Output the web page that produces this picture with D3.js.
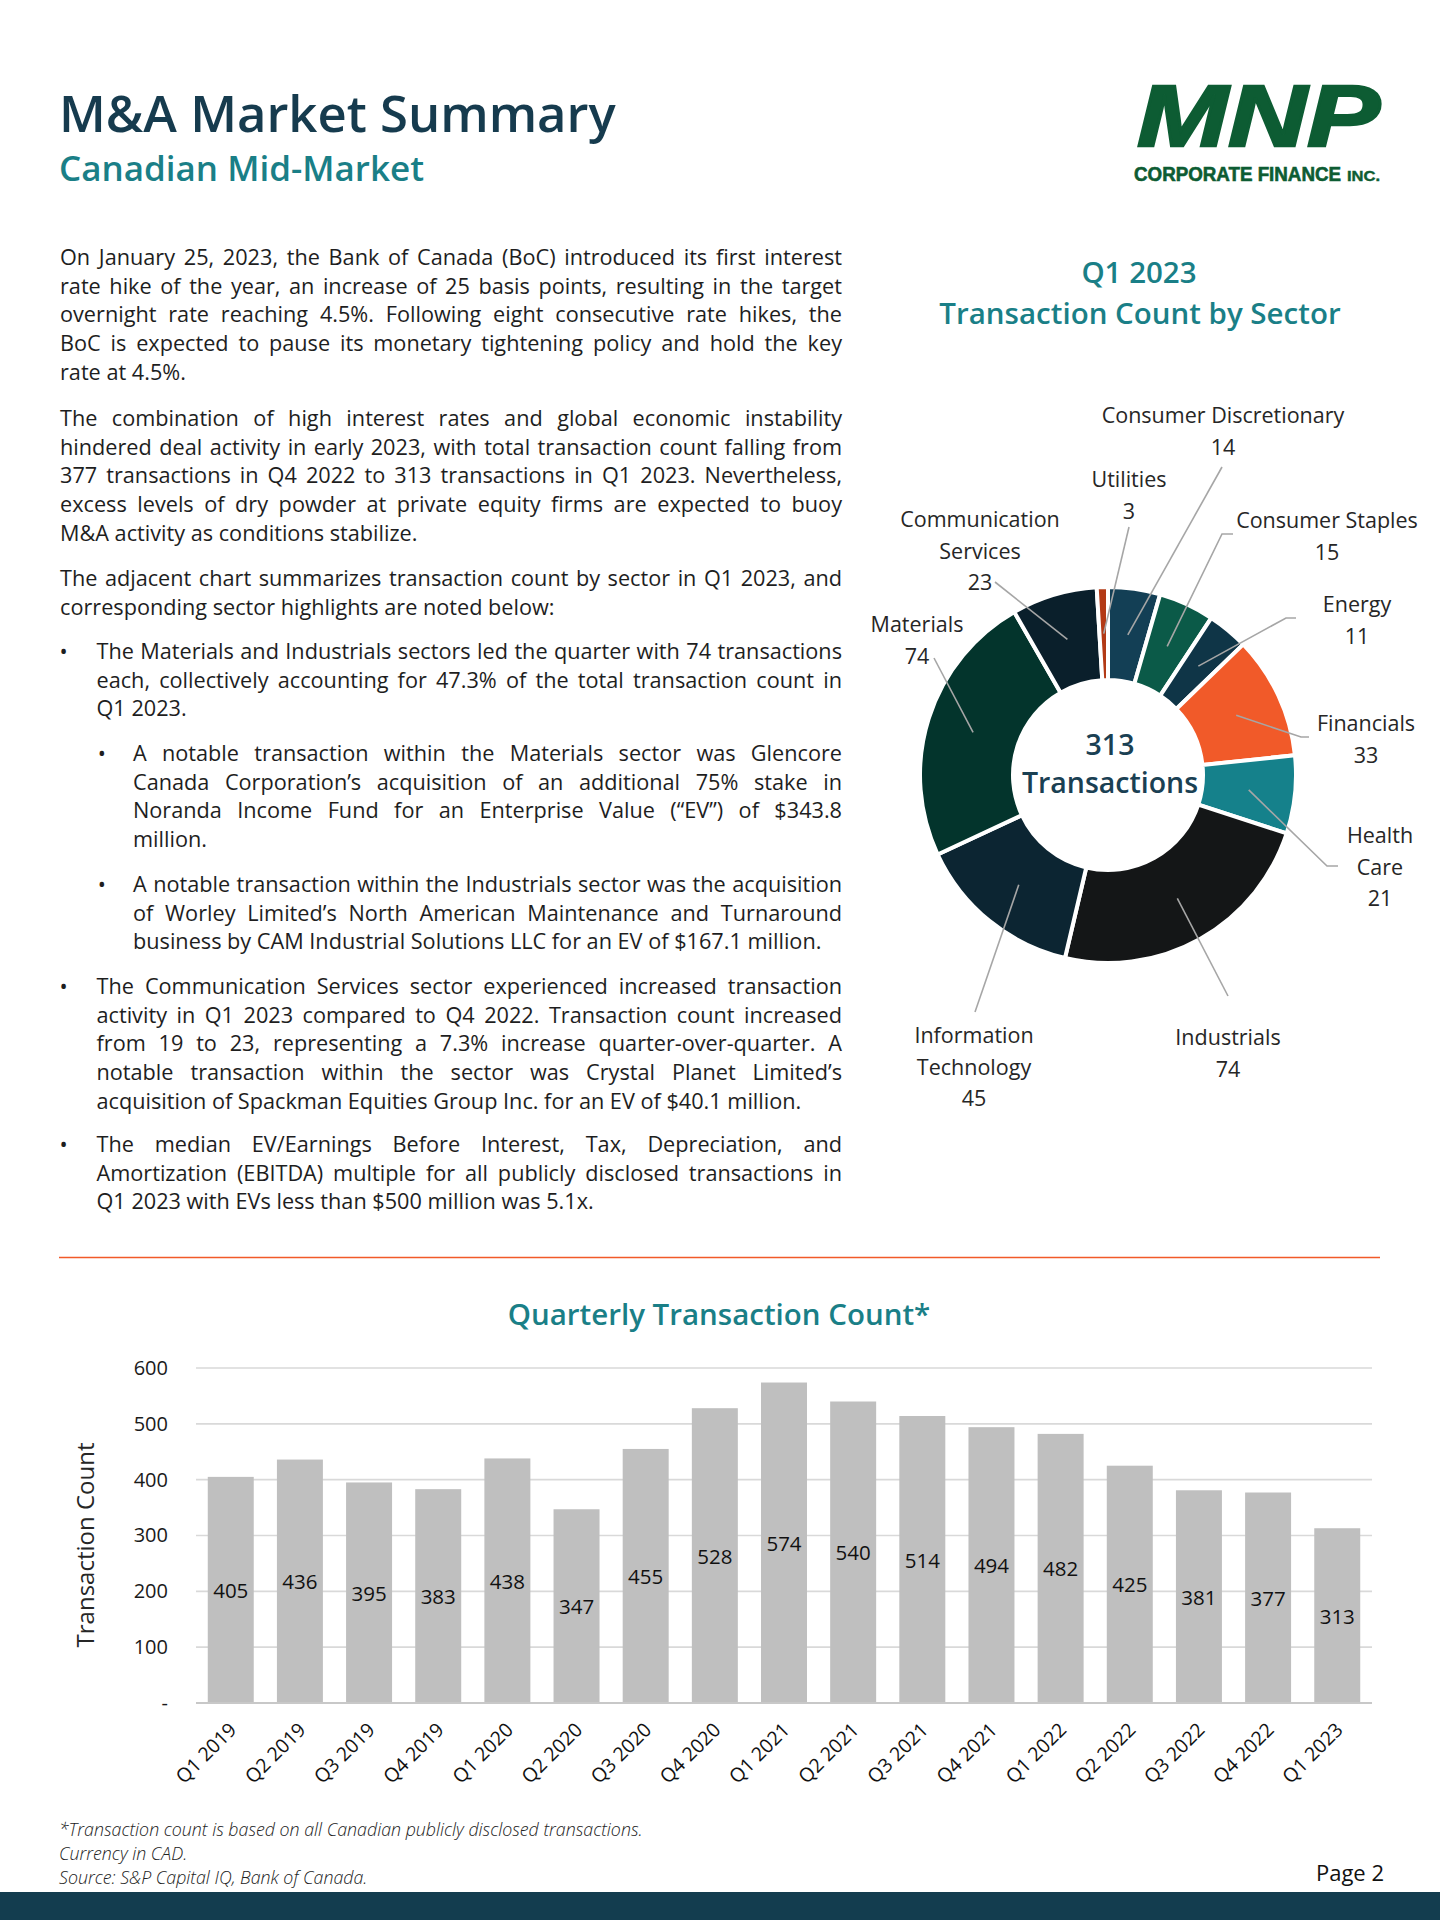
<!DOCTYPE html>
<html><head><meta charset="utf-8">
<script src="https://cdn.jsdelivr.net/npm/d3@7"></script>
<style>
html,body{margin:0;padding:0;background:#fff;}
#page{position:relative;width:1440px;height:1920px;overflow:hidden;font-family:"Open Sans",sans-serif;}
#svg{position:absolute;left:0;top:0;}
.blk{position:absolute;color:#1e1e1e;font-family:"Open Sans",sans-serif;}
.ln{white-space:nowrap;text-align:justify;text-align-last:justify;}
.ln.last{text-align-last:left;}
.bul{position:absolute;color:#1e1e1e;font-family:"Open Sans",sans-serif;}
</style></head>
<body><div id="page"><svg id="svg" width="1440" height="1920"></svg></div>
<script>
// ---------- DATA ----------
const sectorNames = ["Consumer Discretionary","Consumer Staples","Energy","Financials","Health Care","Industrials","Information Technology","Materials","Communication Services","Utilities"];
const sectorCounts = [14,15,11,33,21,74,45,74,23,3];
const sectorLabelLines = [["Consumer Discretionary"],["Consumer Staples"],["Energy"],["Financials"],["Health","Care"],["Industrials"],["Information","Technology"],["Materials"],["Communication","Services"],["Utilities"]];

const quarterLabels = ["Q1 2019","Q2 2019","Q3 2019","Q4 2019","Q1 2020","Q2 2020","Q3 2020","Q4 2020","Q1 2021","Q2 2021","Q3 2021","Q4 2021","Q1 2022","Q2 2022","Q3 2022","Q4 2022","Q1 2023"];
const quarterCounts = [405,436,395,383,438,347,455,528,574,540,514,494,482,425,381,377,313];
const yTickValues = [0,100,200,300,400,500,600];
const yTickLabels = ["-","100","200","300","400","500","600"];

// ---------- STYLE / LAYOUT ----------
const sectorColors = ["#133f55","#0b5a48","#0f3547","#f15a29","#15818b","#141617","#0c2532","#03342c","#0a1f2b","#b33a16"];
const labelLayout = [
  {x:115, y:-352, pts:[[114,-308]]},
  {x:219, y:-247, pts:[[125,-241],[114,-241]]},
  {x:249, y:-163, pts:[[188,-157],[178,-157]]},
  {x:258, y:-44,  pts:[[201,-38],[193,-38]]},
  {x:272, y:68,   pts:[[230,91],[219,91]]},
  {x:120, y:270,  pts:[[120,221]]},
  {x:-134,y:268,  pts:[[-133,237]]},
  {x:-191,y:-143, pts:[[-174,-117]]},
  {x:-128,y:-248, pts:[[-113,-193]]},
  {x:21,  y:-288, pts:[[21,-248]]}
];

const P1 = ["On January 25, 2023, the Bank of Canada (BoC) introduced its first interest",
"rate hike of the year, an increase of 25 basis points, resulting in the target",
"overnight rate reaching 4.5%. Following eight consecutive rate hikes, the",
"BoC is expected to pause its monetary tightening policy and hold the key",
"rate at 4.5%."];
const P2 = ["The combination of high interest rates and global economic instability",
"hindered deal activity in early 2023, with total transaction count falling from",
"377 transactions in Q4 2022 to 313 transactions in Q1 2023. Nevertheless,",
"excess levels of dry powder at private equity firms are expected to buoy",
"M&A activity as conditions stabilize."];
const P3 = ["The adjacent chart summarizes transaction count by sector in Q1 2023, and",
"corresponding sector highlights are noted below:"];
const B1 = ["The Materials and Industrials sectors led the quarter with 74 transactions",
"each, collectively accounting for 47.3% of the total transaction count in",
"Q1 2023."];
const SB1 = ["A notable transaction within the Materials sector was Glencore",
"Canada Corporation\u2019s acquisition of an additional 75% stake in",
"Noranda Income Fund for an Enterprise Value (\u201cEV\u201d) of $343.8",
"million."];
const SB2 = ["A notable transaction within the Industrials sector was the acquisition",
"of Worley Limited\u2019s North American Maintenance and Turnaround",
"business by CAM Industrial Solutions LLC for an EV of $167.1 million."];
const B2 = ["The Communication Services sector experienced increased transaction",
"activity in Q1 2023 compared to Q4 2022. Transaction count increased",
"from 19 to 23, representing a 7.3% increase quarter-over-quarter. A",
"notable transaction within the sector was Crystal Planet Limited\u2019s",
"acquisition of Spackman Equities Group Inc. for an EV of $40.1 million."];
const B3 = ["The median EV/Earnings Before Interest, Tax, Depreciation, and",
"Amortization (EBITDA) multiple for all publicly disclosed transactions in",
"Q1 2023 with EVs less than $500 million was 5.1x."];

const blocks = [
  {base:266, left:60, right:842, lines:P1},
  {base:427, left:60, right:842, lines:P2},
  {base:587, left:60, right:842, lines:P3},
  {base:660, left:96.5, right:842, lines:B1, bullet:63.5},
  {base:762, left:133, right:842, lines:SB1, bullet:101.7},
  {base:893, left:133, right:842, lines:SB2, bullet:101.7},
  {base:995, left:96.5, right:842, lines:B2, bullet:63.5},
  {base:1153, left:96.5, right:842, lines:B3, bullet:63.5}
];

const svg = d3.select("#svg").attr("font-family","'Open Sans', sans-serif");

// ---------- HEADER ----------
svg.append("text").attr("x",59).attr("y",132).attr("font-size",50.8).attr("font-weight",600)
  .attr("fill","#163b4e").text("M&A Market Summary");
svg.append("text").attr("x",59).attr("y",181).attr("font-size",35).attr("font-weight",600)
  .attr("fill","#1a7f87").text("Canadian Mid-Market");

const logo = svg.append("g").attr("fill","#0d5c33").attr("stroke","#0d5c33");
logo.append("text").attr("x",1137).attr("y",146).attr("font-family","'Liberation Sans', sans-serif")
  .attr("font-weight",700).attr("font-style","italic").attr("font-size",88).attr("stroke-width",2.5)
  .attr("textLength",243).attr("lengthAdjust","spacingAndGlyphs").text("MNP");
logo.append("text").attr("x",1134).attr("y",181).attr("font-family","'Liberation Sans Narrow', 'Liberation Sans', sans-serif")
  .attr("font-weight",700).attr("font-size",19.5).attr("stroke-width",0.6)
  .attr("textLength",207).attr("lengthAdjust","spacingAndGlyphs").text("CORPORATE FINANCE");
logo.append("text").attr("x",1347).attr("y",181).attr("font-family","'Liberation Sans Narrow', 'Liberation Sans', sans-serif")
  .attr("font-weight",700).attr("font-size",14).attr("stroke-width",0.4)
  .attr("textLength",33).attr("lengthAdjust","spacingAndGlyphs").text("INC.");

// ---------- PARAGRAPHS ----------
const ctx = document.createElement("canvas").getContext("2d");
function tw(s,F){ ctx.font = `400 ${F}px "Open Sans"`; return ctx.measureText(s).width; }
const F0 = 20;
let maxRatio = 0;
blocks.forEach(b => b.lines.forEach(l => { maxRatio = Math.max(maxRatio, tw(l,F0)/(b.right-b.left)); }));
const F = Math.min(22.5, F0*0.99/maxRatio);
const LH = 28.6;
const baseOff = (LH - 1.362*F)/2 + 1.069*F;
const page = d3.select("#page");
blocks.forEach(b => {
  const div = page.append("div").attr("class","blk")
    .style("left", b.left+"px").style("top", (b.base-baseOff)+"px")
    .style("width",(b.right-b.left)+"px").style("font-size",F+"px").style("line-height",LH+"px");
  div.selectAll("div").data(b.lines).join("div")
    .attr("class",(d,i)=> i===b.lines.length-1 ? "ln last" : "ln").text(d=>d);
  if (b.bullet !== undefined) {
    const bw = tw("\u2022",F);
    page.append("div").attr("class","bul").style("left",(b.bullet-bw/2)+"px")
      .style("top",(b.base-baseOff)+"px").style("font-size",F+"px").style("line-height",LH+"px").text("\u2022");
  }
});

// ---------- DONUT ----------
const cx = 1108, cy = 775, rOuter = 188, rInner = 95;
svg.append("text").attr("x",1139).attr("y",283).attr("text-anchor","middle").attr("font-size",29.5)
  .attr("font-weight",600).attr("fill","#1a7f87").text("Q1 2023");
svg.append("text").attr("x",1140).attr("y",324).attr("text-anchor","middle").attr("font-size",29.5)
  .attr("font-weight",600).attr("fill","#1a7f87").text("Transaction Count by Sector");

const pieData = d3.pie().sort(null).value(d=>d.v)(sectorNames.map((n,i)=>({n, v:sectorCounts[i], i})));
const arc = d3.arc().innerRadius(rInner).outerRadius(rOuter);
const pg = svg.append("g").attr("transform",`translate(${cx},${cy})`);
pg.selectAll("path.slice").data(pieData).join("path").attr("class","slice")
  .attr("d",arc).attr("fill",d=>sectorColors[d.data.i]).attr("stroke","#fff").attr("stroke-width",4).attr("stroke-linejoin","round");

pg.selectAll("path.leader").data(pieData).join("path").attr("class","leader")
  .attr("d", d => { const c = arc.centroid(d); const pts = [c].concat(labelLayout[d.data.i].pts.slice().reverse()); return d3.line()(pts); })
  .attr("fill","none").attr("stroke","#a6a6a6").attr("stroke-width",1.6);

pieData.forEach(d => {
  const L = labelLayout[d.data.i];
  const lines = sectorLabelLines[d.data.i].concat([String(d.data.v)]);
  const t = pg.append("text").attr("text-anchor","middle").attr("font-size",21.5).attr("font-weight",400).attr("fill","#262626");
  lines.forEach((s,k) => t.append("tspan").attr("x",L.x).attr("y",L.y + k*31.7).text(s));
});

const total = d3.sum(sectorCounts);
pg.append("text").attr("x",2).attr("y",-20).attr("text-anchor","middle").attr("font-size",28.5).attr("font-weight",600)
  .attr("fill","#1a4053").text(total);
pg.append("text").attr("x",2).attr("y",18).attr("text-anchor","middle").attr("font-size",28.5).attr("font-weight",600)
  .attr("fill","#1a4053").text("Transactions");

// ---------- DIVIDER ----------
svg.append("line").attr("x1",59).attr("x2",1380).attr("y1",1257.5).attr("y2",1257.5).attr("stroke","#f15a29").attr("stroke-width",1.5);

// ---------- BAR CHART ----------
svg.append("text").attr("x",719).attr("y",1325).attr("text-anchor","middle").attr("font-size",29.5)
  .attr("font-weight",600).attr("fill","#1a7f87").text("Quarterly Transaction Count*");

const x = d3.scaleBand().domain(quarterLabels).range([196,1372]).paddingInner(0.335).paddingOuter(0.17);
const y = d3.scaleLinear().domain([0,600]).range([1703,1368]);

svg.append("g").selectAll("line").data(yTickValues.filter(v=>v>0)).join("line")
  .attr("x1",196).attr("x2",1372).attr("y1",d=>y(d)).attr("y2",d=>y(d))
  .attr("stroke","#d9d9d9").attr("stroke-width",1.6);

svg.append("g").selectAll("rect").data(quarterCounts).join("rect")
  .attr("x",(d,i)=>x(quarterLabels[i])).attr("width",x.bandwidth())
  .attr("y",d=>y(d)).attr("height",d=>y(0)-y(d)).attr("fill","#bfbfbf");

svg.append("line").attr("x1",196).attr("x2",1372).attr("y1",y(0)).attr("y2",y(0)).attr("stroke","#c8c8c8").attr("stroke-width",1.8);

const yAxis = d3.axisLeft(y).tickValues(yTickValues).tickFormat((d,i)=>yTickLabels[i]).tickSize(0).tickPadding(28);
const ya = svg.append("g").attr("transform","translate(196,0)").call(yAxis);
ya.select(".domain").remove();
ya.selectAll("text").attr("font-size",20).attr("font-family","'Open Sans', sans-serif").attr("fill","#1a1a1a");

svg.append("text").attr("transform","translate(84,1545) rotate(-90)").attr("text-anchor","middle")
  .attr("dominant-baseline","central").attr("font-size",24).attr("fill","#262626").text("Transaction Count");

svg.append("g").selectAll("text").data(quarterCounts).join("text")
  .attr("x",(d,i)=>x(quarterLabels[i])+x.bandwidth()/2).attr("y",d=>(y(d)+y(0))/2)
  .attr("text-anchor","middle").attr("dominant-baseline","central").attr("font-size",20.5).attr("fill","#111").text(d=>d);

const xAxis = d3.axisBottom(x).tickSize(0).tickPadding(0);
const xa = svg.append("g").attr("transform",`translate(0,${y(0)})`).call(xAxis);
xa.select(".domain").remove();
xa.selectAll("text").attr("font-size",19.5).attr("font-family","'Open Sans', sans-serif").attr("fill","#111")
  .attr("text-anchor","end").attr("dy",0).attr("y",0)
  .attr("transform","translate(7,28) rotate(-45)");

// ---------- FOOTER ----------
const notes = ["*Transaction count is based on all Canadian publicly disclosed transactions.","Currency in CAD.","Source: S&P Capital IQ, Bank of Canada."];
svg.append("g").selectAll("text").data(notes).join("text").attr("x",59).attr("y",(d,i)=>1836+i*24)
  .attr("font-size",17.8).attr("font-style","italic").attr("font-weight",300).attr("fill","#222").text(d=>d);
svg.append("text").attr("x",1384).attr("y",1881).attr("text-anchor","end").attr("font-size",22).attr("fill","#111").text("Page 2");
svg.append("rect").attr("x",0).attr("y",1892).attr("width",1440).attr("height",28).attr("fill","#133d4f");
</script>
</body></html>
